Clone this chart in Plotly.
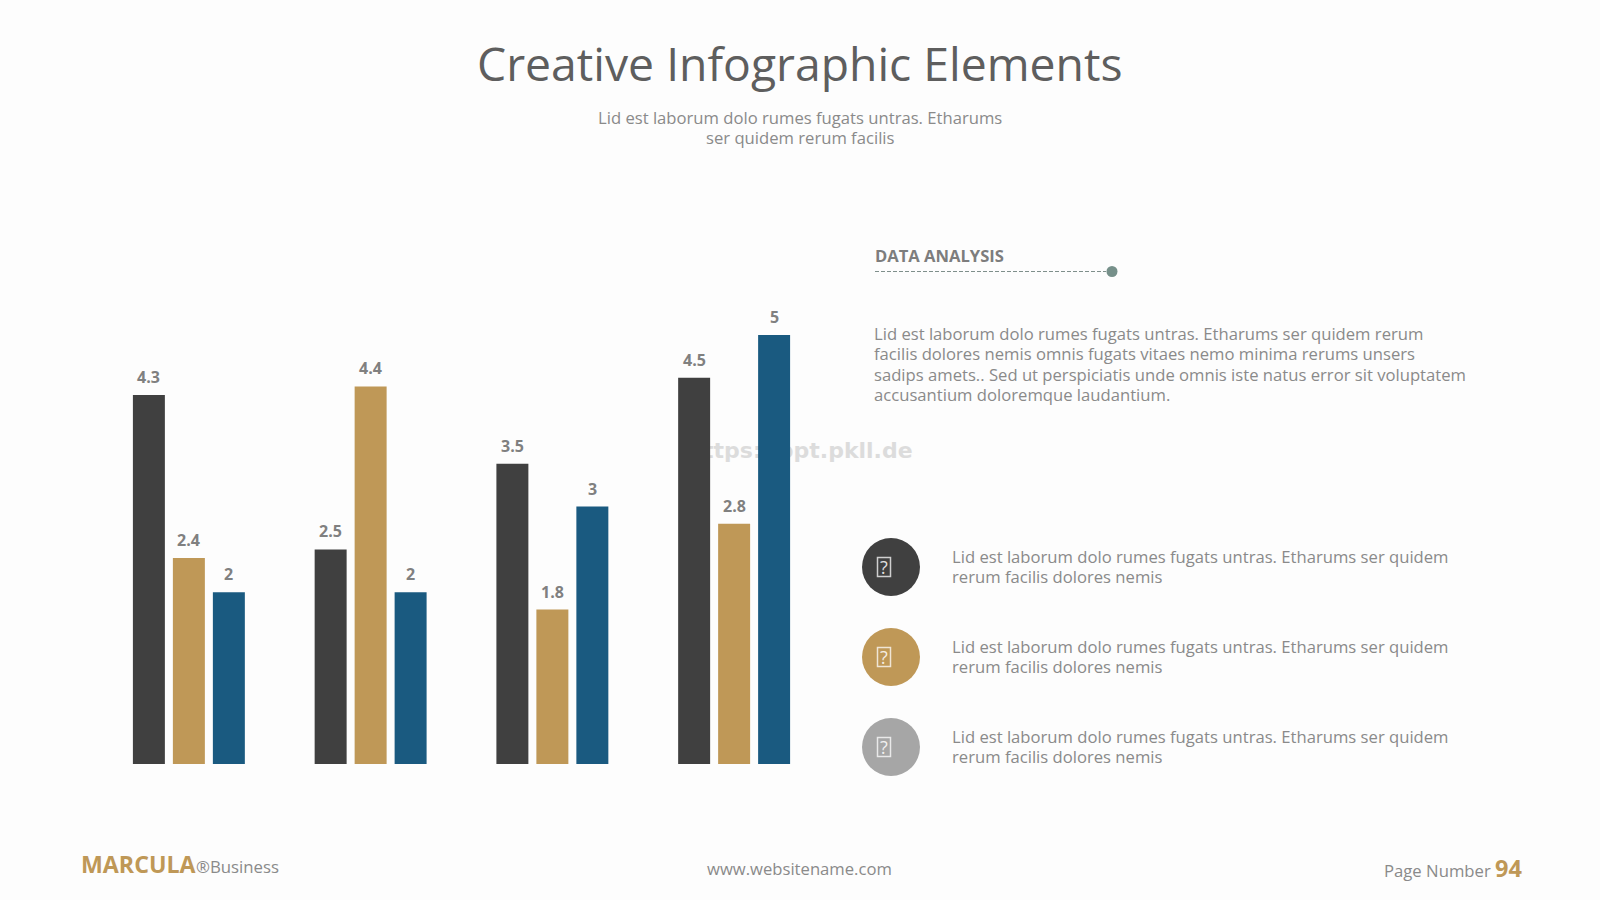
import plotly.graph_objects as go

categories = ["Group 1", "Group 2", "Group 3", "Group 4"]
series_dark = [4.3, 2.5, 3.5, 4.5]
series_gold = [2.4, 4.4, 1.8, 2.8]
series_blue = [2, 2, 3, 5]

DARK = "#404040"
GOLD = "#bf9857"
BLUE = "#1a5a80"
GREY = "#a6a6a6"
TEXT = "#8a8a8a"
FONT = "Open Sans"
W, H = 1600, 900
BODY = 16.65

PARAGRAPH = [
    "Lid est laborum dolo rumes fugats untras. Etharums ser quidem rerum",
    "facilis dolores nemis omnis fugats vitaes nemo minima rerums unsers",
    "sadips amets.. Sed ut perspiciatis unde omnis iste natus error sit voluptatem",
    "accusantium doloremque laudantium.",
]
ITEM_LINES = [
    "Lid est laborum dolo rumes fugats untras. Etharums ser quidem",
    "rerum facilis dolores nemis",
]
ITEM_ROWS = [(567, DARK), (657, GOLD), (747, GREY)]

fig = go.Figure()
# Each value label sits above its bar, shifted sideways to the bar's slot in the group
for name, values, colour, slot in [
    ("Series 1", series_dark, DARK, -40),
    ("Series 2", series_gold, GOLD, 0),
    ("Series 3", series_blue, BLUE, 40),
]:
    fig.add_bar(
        name=name,
        x=categories,
        y=values,
        marker=dict(color=colour, line_width=0),
    )
    for cat, value in zip(categories, values):
        fig.add_annotation(
            x=cat, y=value, xref="x", yref="y", text=f"<b>{value}</b>",
            showarrow=False, xanchor="center", yanchor="middle",
            xshift=slot, yshift=18,
            font=dict(family=FONT, size=16, color="#808080"),
        )


def label(x, y, text, size=BODY, color=TEXT, anchor="left", bold=False):
    """Place one line of text, with x and y given in page pixels."""
    fig.add_annotation(
        x=x / W, y=1 - y / H, xref="paper", yref="paper",
        text=f"<b>{text}</b>" if bold else text,
        showarrow=False, xanchor=anchor, yanchor="middle",
        borderpad=0, borderwidth=0,
        font=dict(family=FONT, size=size, color=color),
    )


def disc(cx, cy, r, color):
    fig.add_shape(
        type="circle", xref="paper", yref="paper",
        x0=(cx - r) / W, x1=(cx + r) / W,
        y0=1 - (cy + r) / H, y1=1 - (cy - r) / H,
        fillcolor=color, line_width=0,
    )


# Header
label(800, 63, "Creative Infographic Elements", size=46.3, color="#5e5e5e", anchor="center")
label(800, 117, "Lid est laborum dolo rumes fugats untras. Etharums", anchor="center")
label(800, 137, "ser quidem rerum facilis", anchor="center")

# Faint site mark that sits behind the bars
fig.add_shape(
    type="rect", xref="paper", yref="paper", layer="below",
    x0=657 / W, x1=943 / W, y0=1 - 469 / H, y1=1 - 427 / H,
    line_width=0, fillcolor="rgba(0,0,0,0)",
    label=dict(
        text="<b>https://ppt.pkll.de</b>", textposition="middle center",
        font=dict(family="DejaVu Sans", size=22, color="#dcdcdc"),
    ),
)

# Data analysis heading with its dashed rule
label(875, 255, "DATA ANALYSIS", size=16.6, color="#7d7d7d", bold=True)
fig.add_shape(
    type="line", xref="paper", yref="paper",
    x0=875 / W, x1=1106 / W, y0=1 - 271.5 / H, y1=1 - 271.5 / H,
    line=dict(color="#7f8f8b", width=1, dash="4px,2px"),
)
disc(1112, 271.5, 5.5, "#76908a")

for i, line in enumerate(PARAGRAPH):
    label(874, 333.4 + 20.4 * i, line)

# Icon rows
for cy, colour in ITEM_ROWS:
    disc(891, cy, 29, colour)
    fig.add_shape(
        type="rect", xref="paper", yref="paper",
        x0=877.5 / W, x1=890.5 / W, y0=1 - (cy + 9.5) / H, y1=1 - (cy - 9.5) / H,
        line=dict(color="rgba(255,255,255,0.75)", width=1.5), fillcolor="rgba(0,0,0,0)",
    )
    label(884, cy, "?", size=18, color="rgba(255,255,255,0.85)", anchor="center")
    label(952, cy - 11, ITEM_LINES[0])
    label(952, cy + 9, ITEM_LINES[1])

# Footer
label(81, 864, "MARCULA", size=23.2, color=GOLD, bold=True)
label(196, 866, "®Business", size=16.8)
label(799, 868, "www.websitename.com", anchor="center")
label(1384, 870, "Page Number", size=16.7)
label(1495, 868, "94", size=23.5, color=GOLD, bold=True)

fig.update_layout(
    width=W, height=H,
    margin=dict(l=0, r=0, t=0, b=0),
    paper_bgcolor="#fdfdfd",
    plot_bgcolor="rgba(0,0,0,0)",
    barmode="group",
    bargap=0.34,
    bargroupgap=0.2,
    showlegend=False,
    xaxis=dict(domain=[98 / W, 825 / W], visible=False, range=[-0.5, 3.5]),
    yaxis=dict(domain=[1 - 764 / H, 1 - 292 / H], visible=False, range=[0, 5.5]),
)

fig.write_html("out.html")
